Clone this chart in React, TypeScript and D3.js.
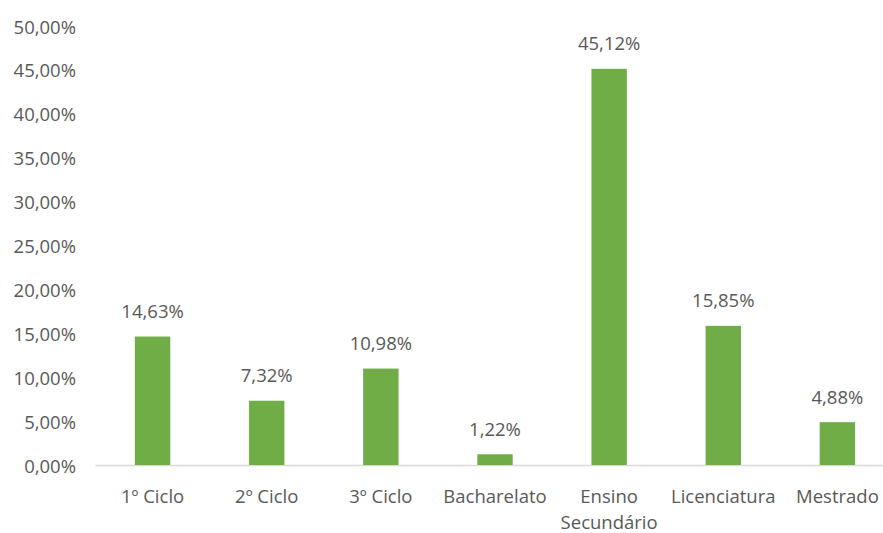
import React from "react";
import * as d3 from "d3";

const categories = ["1º Ciclo", "2º Ciclo", "3º Ciclo", "Bacharelato", "Ensino\nSecundário", "Licenciatura", "Mestrado"];
const values = [14.63, 7.32, 10.98, 1.22, 45.12, 15.85, 4.88];
const yTicks = [0, 5, 10, 15, 20, 25, 30, 35, 40, 45, 50];

const fmt = (v: number) => v.toFixed(2).replace(".", ",") + "%";

const App = () => {
  const width = 883;
  const height = 533;
  const font = "'Open Sans', sans-serif";
  const textColor = "#595959";
  const fs = 18.5;

  const x = d3.scaleBand().domain(categories).range([95.5, 894.5]).paddingInner(0.69).paddingOuter(0.345);
  const y = d3.scaleLinear().domain([0, 50]).range([465, 26]);

  return (
    <svg width={width} height={height} style={{ position: "absolute", left: 0, top: 0, background: "#fff" }}>
      {yTicks.map((t) => (
        <text key={t} x={76} y={y(t)} textAnchor="end" dominantBaseline="central" fontFamily={font} fontSize={fs} fill={textColor}>
          {fmt(t)}
        </text>
      ))}
      <line x1={95.5} x2={width} y1={465.5} y2={465.5} stroke="#d9d9d9" strokeWidth={1.5} />
      {values.map((v, i) => {
        const c = categories[i];
        const bx = x(c)!;
        return (
          <g key={c}>
            <rect x={bx} y={y(v)} width={x.bandwidth()} height={y(0) - y(v)} fill="#70ad47" />
            <text x={bx + x.bandwidth() / 2} y={y(v) - 26} textAnchor="middle" dominantBaseline="central" fontFamily={font} fontSize={fs} fill={textColor}>
              {fmt(v)}
            </text>
            {c.split("\n").map((line, j) => (
              <text key={j} x={bx + x.bandwidth() / 2} y={495 + j * 26} textAnchor="middle" dominantBaseline="central" fontFamily={font} fontSize={fs} fill={textColor}>
                {line}
              </text>
            ))}
          </g>
        );
      })}
    </svg>
  );
};

export default App;
